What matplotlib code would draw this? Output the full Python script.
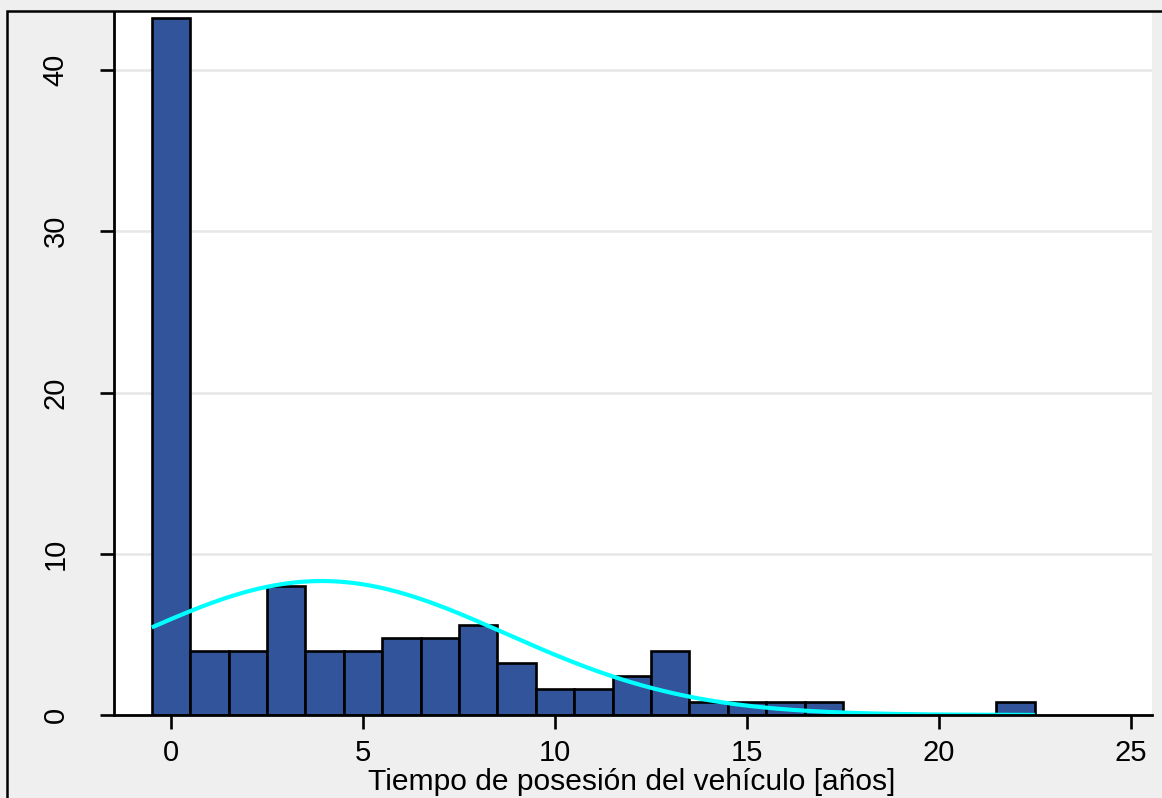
import numpy as np
import matplotlib
matplotlib.use("Agg")
import matplotlib.pyplot as plt
from matplotlib.patches import Rectangle

# Histogram data (percent per 1-year bin, bins centred on integers)
bin_centers = list(range(0, 23))
percents = [43.2, 4.0, 4.0, 8.0, 4.0, 4.0, 4.8, 4.8, 5.6, 3.2, 1.6, 1.6, 2.4, 4.0,
            0.8, 0.8, 0.8, 0.8, 0.0, 0.0, 0.0, 0.0, 0.8]
x_ticks = [0, 5, 10, 15, 20, 25]
y_ticks = [0, 10, 20, 30, 40]
x_label = "Tiempo de posesión del vehículo [años]"

plt.rcParams['font.family'] = ['Liberation Sans', 'DejaVu Sans']

W, H = 1162, 798
fig = plt.figure(figsize=(W / 100, H / 100), dpi=100)
fig.patch.set_facecolor('#efefef')

ax = fig.add_axes([114 / W, 1 - 715 / H, (1152 - 114) / W, (715 - 12) / H])
ax.set_facecolor('white')

centers = np.array(bin_centers, dtype=float)
vals = np.array(percents)
ax.bar(centers, vals, width=1.0, color='#31549a', edgecolor='black', linewidth=1.9, zorder=3)

# Normal density fitted to the histogram (as in Stata's "normal" option)
mu = np.sum(centers * vals) / vals.sum()
sd = np.sqrt(np.sum(vals * (centers - mu) ** 2) / vals.sum())
xs = np.linspace(centers[0] - 0.5, centers[-1] + 0.5, 400)
ys = 100.0 / (sd * np.sqrt(2 * np.pi)) * np.exp(-0.5 * ((xs - mu) / sd) ** 2)
ax.plot(xs, ys, color='#00ffff', linewidth=3.0, zorder=4, solid_capstyle='butt')

ax.set_xlim(-1.484, 25.55)
ax.set_ylim(0, 43.6)
ax.set_xticks(x_ticks)
ax.set_yticks(y_ticks)
ax.set_yticklabels([str(v) for v in y_ticks], rotation=90, va='center')
ax.tick_params(axis='both', labelsize=21, width=1.9, length=10, color='black', direction='out')
ax.tick_params(axis='x', pad=7)
ax.tick_params(axis='y', pad=22)

ax.yaxis.grid(True, color='#e6e6e6', linewidth=1.8, zorder=0)
ax.set_axisbelow(True)
for s in ['top', 'right']:
    ax.spines[s].set_visible(False)
for s in ['left', 'bottom']:
    ax.spines[s].set_linewidth(2.0)
    ax.spines[s].set_color('black')
    ax.spines[s].set_zorder(5)

fig.text(632 / W, 1 - 790 / H, x_label, ha='center', va='baseline', fontsize=21.6)

# Outer frame (cropped graph border)
fig.patches.append(Rectangle((7 / W, -0.1), 1.2, (1 - 11 / H) + 0.1, transform=fig.transFigure,
                             fill=False, edgecolor='black', linewidth=1.8, zorder=10))

fig.savefig('out.png', dpi=100, facecolor=fig.get_facecolor())
